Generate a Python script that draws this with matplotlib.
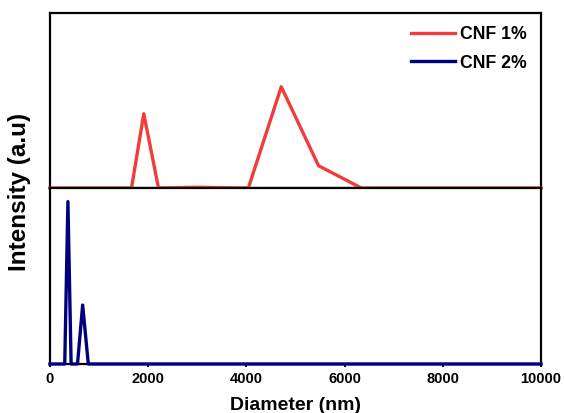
import numpy as np
import matplotlib
matplotlib.use('Agg')
import matplotlib.pyplot as plt

plt.rcParams['font.family'] = ['Liberation Sans', 'DejaVu Sans']
plt.rcParams['font.weight'] = 'bold'

# CNF 1% size distribution
d1 = [0, 1660, 1910, 2210, 3000, 4040, 4710, 5470, 6340, 10000]
i1 = [0, 0, 29.7, 0, 0.3, 0, 40.5, 8.9, 0, 0]
# CNF 2% size distribution
d2 = [0, 300, 365, 430, 560, 665, 780, 10000]
i2 = [0, 0, 73.8, 0, 0, 26.8, 0, 0]

labels = ['CNF 1%', 'CNF 2%']
colors = ['#f23c3c', '#00007f']
xticks = [0, 2000, 4000, 6000, 8000, 10000]

fig = plt.figure(figsize=(5.64, 4.13), dpi=100)
left, right = 50 / 564, 541 / 564
bot, mid, top = 1 - 364 / 413, 1 - 188 / 413, 1 - 13 / 413
ax1 = fig.add_axes([left, mid, right - left, top - mid])
ax2 = fig.add_axes([left, bot, right - left, mid - bot], sharex=ax1)

l1, = ax1.plot(d1, i1, color=colors[0], lw=2.4, label=labels[0], clip_on=False, zorder=5)
l2, = ax2.plot(d2, i2, color=colors[1], lw=2.4, label=labels[1], clip_on=False, zorder=5)

ax1.set_ylim(0, 70)
ax2.set_ylim(0, 80)
ax1.set_xlim(0, 10000)

for ax in (ax1, ax2):
    for s in ax.spines.values():
        s.set_linewidth(1.6)
    ax.set_yticks([])

ax1.tick_params(axis='x', bottom=False, labelbottom=False)
ax2.set_xticks(xticks)
ax2.tick_params(axis='x', direction='out', length=2.5, width=1.5, labelsize=10.5, pad=3)
for t in ax2.get_xticklabels():
    t.set_fontweight('bold')

ax2.set_xlabel('Diameter (nm)', fontsize=14, fontweight='bold', labelpad=8)
fig.text(0.034, (bot + top) / 2 - 0.008, 'Intensity (a.u)', rotation=90, fontsize=17.5,
         fontweight='bold', ha='center', va='center')

ax1.legend(handles=[l1, l2], loc='upper right', bbox_to_anchor=(1.0, 1.006),
           frameon=False, prop={'weight': 'bold', 'size': 12.7}, handlelength=2.5,
           handletextpad=0.3, borderaxespad=0.4, labelspacing=0.65)

plt.savefig('out.png', dpi=100)
